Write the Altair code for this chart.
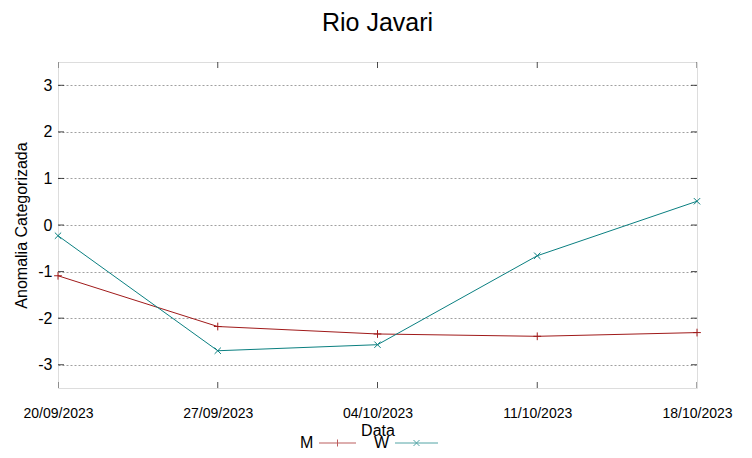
import altair as alt
import pandas as pd

dates = ["20/09/2023", "27/09/2023", "04/10/2023", "11/10/2023", "18/10/2023"]
serie_m = [-1.09, -2.18, -2.34, -2.39, -2.31]
serie_w = [-0.23, -2.70, -2.57, -0.66, 0.51]
series_names = ["M", "W"]
series_colors = ["#a01a1a", "#0a7f80"]
y_ticks = [-3, -2, -1, 0, 1, 2, 3]
y_domain = [-3.5, 3.5]

df = pd.DataFrame({
    "data": dates * 2,
    "valor": serie_m + serie_w,
    "serie": ["M"] * len(dates) + ["W"] * len(dates),
})

FONT = "Liberation Sans"

x_enc = alt.X("data:O", sort=dates,
              scale=alt.Scale(type="point", padding=0, domain=dates),
              axis=alt.Axis(title="Data", labelAngle=0, ticks=False, domain=False,
                            grid=False, labelPadding=18, labelFontSize=14,
                            labelAlign="center", labelBaseline="top",
                            labelFont=FONT, titleFont=FONT, labelOverlap=False,
                            labelBound=False, labelFlush=False,
                            titleFontSize=16, titleFontWeight="normal", titlePadding=2,
                            labelColor="#000", titleColor="#000"))
y_enc = alt.Y("valor:Q", scale=alt.Scale(domain=y_domain, nice=False, zero=False),
              axis=alt.Axis(title="Anomalia Categorizada", values=y_ticks, ticks=False,
                            domain=False, grid=True, gridDash=[2, 2], gridColor="#a0a0a0",
                            labelExpr="toString(datum.value)",
                            labelPadding=6, labelFontSize=16, labelFont=FONT,
                            titleFont=FONT, titleFontSize=16, titleFontWeight="normal",
                            titlePadding=8, labelColor="#000", titleColor="#000"))

legend = alt.Legend(title=None, orient="none", direction="horizontal",
                    legendX=226, legendY=373, symbolSize=4,
                    symbolStrokeWidth=1, labelFontSize=16, labelFont=FONT,
                    labelColor="#000", columnPadding=-8, labelOffset=0)
color_scale = alt.Scale(domain=series_names, range=series_colors)
color_enc = alt.Color("serie:N", scale=color_scale, legend=legend)

lines = alt.Chart(df).mark_line(strokeWidth=1).encode(
    x=x_enc, y=y_enc, color=color_enc,
)

plus_path = "M-1,0L1,0M0,-1L0,1"
x_path = "M-1,-1L1,1M-1,1L1,-1"

pts_m = alt.Chart(df).transform_filter("datum.serie == 'M'").mark_point(
    shape=plus_path, filled=False, size=60, strokeWidth=1, opacity=1).encode(
    x="data:O", y="valor:Q", color=alt.value(series_colors[0]))
pts_w = alt.Chart(df).transform_filter("datum.serie == 'W'").mark_point(
    shape=x_path, filled=False, size=40, strokeWidth=1, opacity=1).encode(
    x="data:O", y="valor:Q", color=alt.value(series_colors[1]))

# legend glyphs: label on the left, line with marker drawn to its right (path units = px)
legend_shapes = ["M27,0L64,0M45.5,-3.5L45.5,3.5",
                 "M29,0L72,0M47.5,-3L53.5,3M47.5,3L53.5,-3"]
legend_layer = alt.Chart(df).transform_filter("false").mark_point(
    filled=False, strokeWidth=1).encode(
    x="data:O", y="valor:Q", color=color_enc,
    shape=alt.Shape("serie:N", scale=alt.Scale(domain=series_names, range=legend_shapes),
                    legend=legend),
)

xt_df = pd.DataFrame({"data": dates * 2, "v": [y_domain[1]] * len(dates) + [y_domain[0]] * len(dates)})
x_ticks_layer = alt.Chart(xt_df).mark_tick(orient="vertical", size=12, thickness=1,
                                            color="#000", clip=True).encode(
    x="data:O", y="v:Q")
yt_df = pd.DataFrame({"data": [dates[0]] * len(y_ticks) + [dates[-1]] * len(y_ticks),
                      "v": y_ticks * 2})
y_ticks_layer = alt.Chart(yt_df).mark_tick(orient="horizontal", size=12, thickness=1,
                                            color="#000", clip=True).encode(
    x="data:O", y="v:Q")

chart = alt.layer(x_ticks_layer, y_ticks_layer, lines, pts_m, pts_w, legend_layer).properties(
    width=639, height=326,
    title=alt.TitleParams("Rio Javari", fontSize=25, font=FONT, fontWeight="normal",
                          color="#000", offset=26),
    autosize=alt.AutoSizeParams(type="none"),
    padding={"left": 50, "top": 54, "right": 47, "bottom": 62},
).configure_view(stroke="#000", strokeWidth=1).configure(background="white")

chart.save("out.html", embed_options={"renderer": "svg", "actions": False})
